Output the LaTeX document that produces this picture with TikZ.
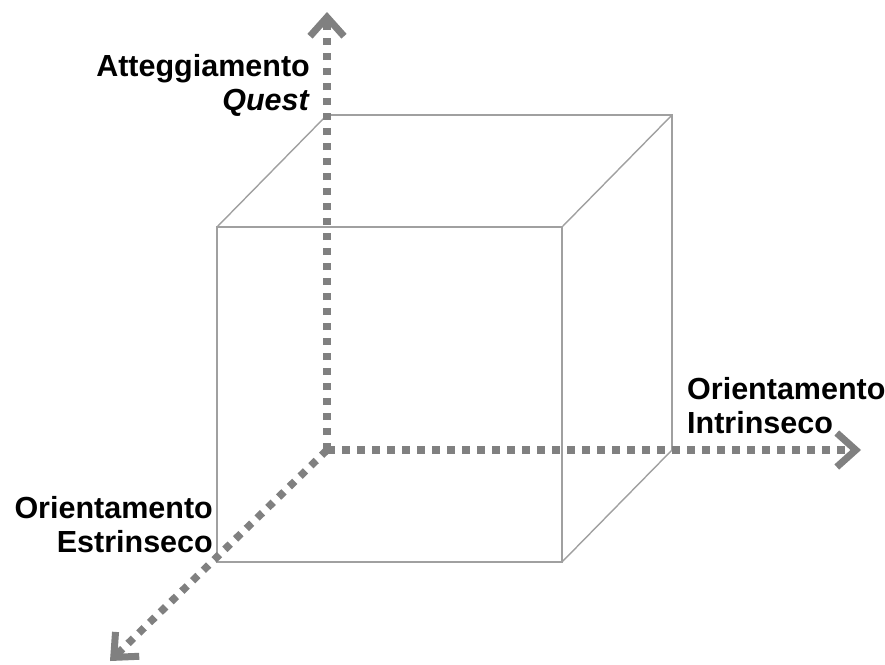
\documentclass[tikz,border=0pt]{standalone}
\usepackage{fontspec}
\setmainfont{Liberation Sans}
\usetikzlibrary{arrows.meta}
\definecolor{axisgray}{RGB}{128,128,128}
\definecolor{cubegray}{RGB}{160,160,160}
\tikzset{
  axisline/.style={draw=axisgray, line width=7.5pt, dash pattern=on 7.5pt off 7.5pt,
    -{Straight Barb[length=19pt,width=34pt,line width=7pt,line join=miter]}},
  cubeline/.style={draw=cubegray, line width=1.4pt},
  lbl/.style={font=\bfseries\fontsize{30.5}{34.5}\selectfont, inner sep=0pt, text=black}
}
\begin{document}
\begin{tikzpicture}[x=1pt,y=-1pt]
\useasboundingbox (0,0) rectangle (885,664);
% cube
\coordinate (b1) at (327,115);
\coordinate (b2) at (672,115);
\coordinate (b3) at (672,450);
\coordinate (b4) at (327,450);
\coordinate (f1) at (217,227);
\coordinate (f2) at (562,227);
\coordinate (f3) at (562,562);
\coordinate (f4) at (217,562);
\draw[cubeline] (b1) -- (b2) -- (b3);
\draw[cubeline] (f1) -- (f2) -- (f3) -- (f4) -- cycle;
\draw[cubeline] (b1) -- (f1);
\draw[cubeline] (b2) -- (f2);
\draw[cubeline] (b3) -- (f3);
% axes
\coordinate (O) at (327,450);
\coordinate (ty) at (327,12);
\coordinate (tx) at (861,450);
\coordinate (tz) at (110,661);
\draw[axisline] (O) -- (ty);
\draw[axisline] (O) -- (tx);
\draw[axisline] (O) -- (tz);
% labels
\node[lbl, anchor=north east, align=right] (latt) at (310,54) {Atteggiamento\\\textit{Quest}};
\node[lbl, anchor=north east, align=right] (lest) at (213,496) {Orientamento\\Estrinseco};
\node[lbl, anchor=north west, align=left] (lint) at (687,377) {Orientamento\\Intrinseco};
\end{tikzpicture}
\end{document}
